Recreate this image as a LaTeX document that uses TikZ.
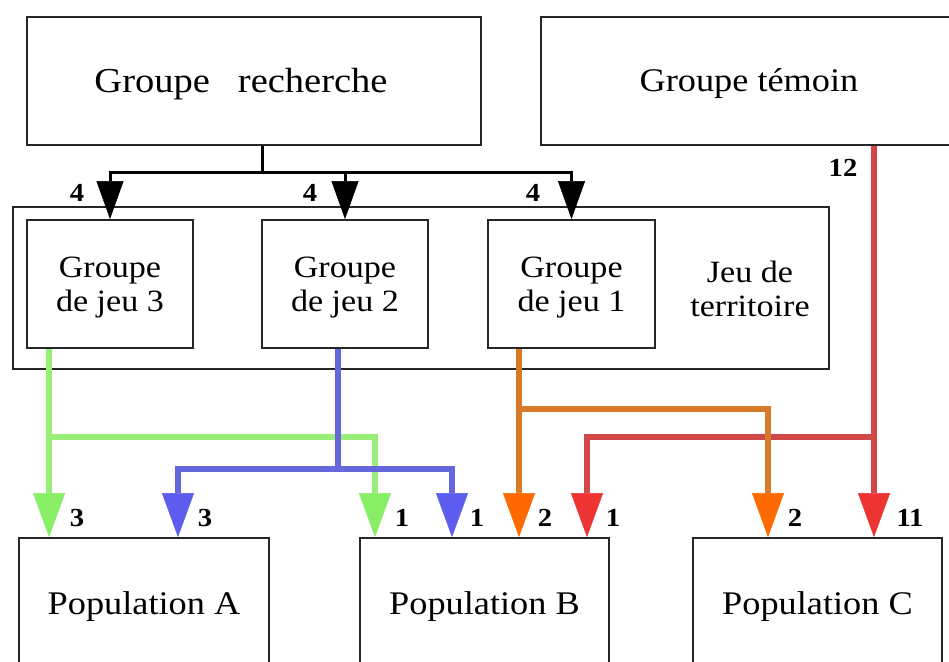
\documentclass[tikz,border=0pt]{standalone}
\usepackage{fontspec}
\setmainfont{Liberation Serif}[FakeStretch=1.1]
\usetikzlibrary{arrows.meta,calc}
\definecolor{cgreen}{HTML}{99EE77}
\definecolor{cgreenh}{HTML}{88EE66}
\definecolor{cblue}{HTML}{6666DD}
\definecolor{cblueh}{HTML}{5C5CEE}
\definecolor{corange}{HTML}{D97A2B}
\definecolor{coranh}{HTML}{FF6A00}
\definecolor{cred}{HTML}{D04848}
\definecolor{credh}{HTML}{EE3333}
\newcommand{\lowertext}[2]{\raisebox{-#1}[\height][\depth]{#2}}
\begin{document}
\begin{tikzpicture}[x=1pt,y=-1pt,
  box/.style={draw=black!85,line width=1.8pt,inner sep=0pt,rectangle},
  big/.style={font=\fontsize{33}{38}\selectfont},
  small/.style={font=\fontsize{31}{34}\selectfont,align=center,inner sep=0pt},
  num/.style={font=\fontsize{26}{28}\selectfont\bfseries,inner sep=0pt},
  blk/.style={line width=3pt,black},
  blkarrow/.style={blk,-{Triangle[width=27pt,length=38pt,line width=0.5pt]}},
  gflow/.style={line width=6pt,cgreen,-{Triangle[width=32pt,length=44pt,line width=0.5pt,color=cgreenh]}},
  bflow/.style={line width=6pt,cblue},
  bflowa/.style={bflow,-{Triangle[width=32pt,length=44pt,line width=0.5pt,color=cblueh]}},
  oflow/.style={line width=6pt,corange,-{Triangle[width=32pt,length=44pt,line width=0.5pt,color=coranh]}},
  rflow/.style={line width=6pt,cred,-{Triangle[width=32pt,length=44pt,line width=0.5pt,color=credh]}}
]
\useasboundingbox (0,0) rectangle (949,661);
\fill[white] (0,0) rectangle (949,661);
\clip (0,0) rectangle (949,661);

% boxes
\node[box,font=\fontsize{35}{40}\selectfont,minimum width=454pt,minimum height=128pt] (gr) at (254,81) {\lowertext{3pt}{Groupe\kern28pt recherche}\kern26pt};
\node[box,big,minimum width=416pt,minimum height=128pt] (gt) at (749,81) {\lowertext{3pt}{Groupe témoin}};
\node[box,minimum width=816pt,minimum height=162pt] (jt) at (421,288) {};
\node[small] (jtxt) at (750,289) {Jeu de\\territoire};
\node[box,small,minimum width=166pt,minimum height=128pt] (g3) at (110,284) {\lowertext{4pt}{\begin{tabular}{@{}c@{}}Groupe\\de jeu 3\end{tabular}}};
\node[box,small,minimum width=166pt,minimum height=128pt] (g2) at (345,284) {\lowertext{4pt}{\begin{tabular}{@{}c@{}}Groupe\\de jeu 2\end{tabular}}};
\node[box,small,minimum width=167pt,minimum height=128pt] (g1) at (571.5,284) {\lowertext{4pt}{\begin{tabular}{@{}c@{}}Groupe\\de jeu 1\end{tabular}}};
\node[box,big,minimum width=250pt,minimum height=130pt] (pA) at (144,603) {\lowertext{4pt}{Population A}};
\node[box,big,minimum width=249pt,minimum height=130pt] (pB) at (484.5,603) {\lowertext{4pt}{Population B}};
\node[box,big,minimum width=249pt,minimum height=130pt] (pC) at (817.5,603) {\lowertext{4pt}{Population C}};

% black connectors
\coordinate (bj) at (262,172);
\draw[blk] (gr.south -| bj) -- (bj);
\draw[blkarrow] (bj) -| (g3.north);
\draw[blkarrow] (bj) -| (g2.north);
\draw[blkarrow] (bj) -| (g1.north);

% green
\coordinate (g3o) at ([xshift=23pt]g3.south west);
\coordinate (gj) at (50,437);
\coordinate (gx) at (375,437);
\draw[gflow] (g3o) -- (g3o |- pA.north);
\draw[gflow] (gj) -- (gx) -- (gx |- pB.north);

% blue
\coordinate (g2o) at (338,348);
\coordinate (bjn) at (338,469);
\coordinate (bxA) at (178,469);
\coordinate (bxB) at (452,469);
\draw[bflow] (g2o |- g2.south) -- (bjn);
\draw[bflowa] (bjn) -- (bxA) -- (bxA |- pA.north);
\draw[bflowa] (bjn) -- (bxB) -- (bxB |- pB.north);

% red
\coordinate (rj) at (874,437);
\coordinate (rxB) at (587,437);
\draw[rflow] (gt.south -| rj) -- (rj |- pC.north);
\draw[rflow] (rj) -- (rxB) -- (rxB |- pB.north);

% orange
\coordinate (g1o) at (519,348);
\coordinate (oj) at (519,409);
\coordinate (ox) at (768,409);
\draw[oflow] (g1o |- g1.south) -- (g1o |- pB.north);
\draw[oflow] (oj) -- (ox) -- (ox |- pC.north);

% labels
\node[num] (n1) at (77,193) {4};
\node[num] (n2) at (310,193) {4};
\node[num] (n3) at (533,193) {4};
\node[num] (n4) at (843,168) {12};
\node[num] (n5) at (77,518) {3};
\node[num] (n6) at (205,518) {3};
\node[num] (n7) at (402,518) {1};
\node[num] (n8) at (477,518) {1};
\node[num] (n9) at (545,518) {2};
\node[num] (n10) at (613,518) {1};
\node[num] (n11) at (795,518) {2};
\node[num] (n12) at (910,518) {11};
\end{tikzpicture}
\end{document}
